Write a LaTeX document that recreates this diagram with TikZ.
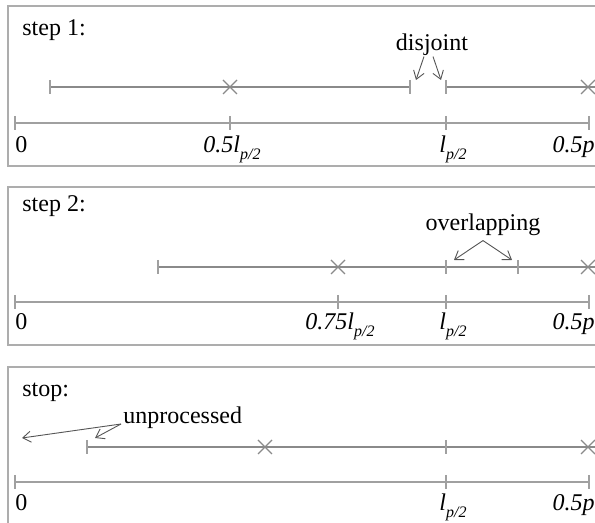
\documentclass[tikz,border=0pt]{standalone}
\usepackage{fontspec}
\setmainfont{Liberation Serif}
\usetikzlibrary{arrows.meta}
\definecolor{boxcol}{HTML}{ADADAD}
\definecolor{linecol}{HTML}{A0A0A0}
\definecolor{segcol}{HTML}{8A8A8A}
\definecolor{arrcol}{HTML}{555555}
\newcommand{\lsub}{\textit{l}\raisebox{-0.6ex}{\footnotesize\textit{p/2}}}
\begin{document}
\begin{tikzpicture}[x=0.5pt,y=-0.5pt,
  panelbox/.style={draw=boxcol,line width=0.9pt},
  axisline/.style={draw=linecol,line width=0.7pt},
  segline/.style={draw=segcol,line width=0.6pt},
  arr/.style={draw=arrcol,line width=0.45pt,-{Straight Barb[length=4pt,width=5.5pt]}},
  txt/.style={inner sep=0pt,font=\fontsize{12}{14}\selectfont},
  vtick/.pic={\draw[linecol,line width=0.6pt] (0,-7) -- (0,7);},
  xmark/.pic={\draw[segcol,line width=0.6pt] (-7,-7) -- (7,7) (-7,7) -- (7,-7);}]
\useasboundingbox (0,0) rectangle (595,523);
\clip (0,0) rectangle (595,523);
% panel boxes
\draw[panelbox] (8,6) rectangle (640,166);
\draw[panelbox] (8,187) rectangle (640,345);
\draw[panelbox] (8,367) rectangle (640,580);

% ---------- panel 1 ----------
\node[txt,anchor=base west] (t1) at (22,36) {step 1:};
\draw[segline] (50,87) -- (410,87);
\draw[segline] (446,87) -- (600,87);
\pic at (50,87) {vtick}; \pic at (410,87) {vtick}; \pic at (446,87) {vtick};
\pic at (230,87) {xmark}; \pic at (588,87) {xmark};
\draw[axisline] (15,123) -- (589,123);
\pic at (15,123) {vtick}; \pic at (230,123) {vtick}; \pic at (446,123) {vtick}; \pic at (589,123) {vtick};
\node[txt,anchor=base west] (z1) at (15,153) {0};
\node[txt,anchor=base] (h1) at (232,153) {\textit{0.5}\lsub};
\node[txt,anchor=base west] (l1) at (439,153) {\lsub};
\node[txt,anchor=base east] (p1) at (595,153) {\textit{0.5p}};
\node[txt,anchor=base] (dj) at (432,51) {disjoint};
\coordinate (dja) at (416,80);
\coordinate (djb) at (441,80);
\draw[arr] ([xshift=-4pt]dj.south) -- (dja);
\draw[arr] ([xshift=0.5pt]dj.south) -- (djb);

% ---------- panel 2 ----------
\node[txt,anchor=base west] (t2) at (22,212) {step 2:};
\draw[segline] (158,267) -- (600,267);
\pic at (158,267) {vtick}; \pic at (446,267) {vtick}; \pic at (518,267) {vtick};
\pic at (338,267) {xmark}; \pic at (588,267) {xmark};
\draw[axisline] (15,302) -- (589,302);
\pic at (15,302) {vtick}; \pic at (338,302) {vtick}; \pic at (446,302) {vtick}; \pic at (589,302) {vtick};
\node[txt,anchor=base west] (z2) at (15,330) {0};
\node[txt,anchor=base] (h2) at (340,330) {\textit{0.75}\lsub};
\node[txt,anchor=base west] (l2) at (439,330) {\lsub};
\node[txt,anchor=base east] (p2) at (595,330) {\textit{0.5p}};
\node[txt,anchor=base] (ov) at (483,231) {overlapping};
\coordinate (ova) at (454,260);
\coordinate (ovb) at (512,260);
\draw[arr] ([yshift=-2pt]ov.south) -- (ova);
\draw[arr] ([yshift=-2pt]ov.south) -- (ovb);

% ---------- panel 3 ----------
\node[txt,anchor=base west] (t3) at (22,397) {stop:};
\draw[segline] (87,447) -- (600,447);
\pic at (87,447) {vtick}; \pic at (446,447) {vtick};
\pic at (265,447) {xmark}; \pic at (588,447) {xmark};
\draw[axisline] (15,482) -- (589,482);
\pic at (15,482) {vtick}; \pic at (446,482) {vtick}; \pic at (589,482) {vtick};
\node[txt,anchor=base west] (z3) at (15,511) {0};
\node[txt,anchor=base west] (l3) at (439,511) {\lsub};
\node[txt,anchor=base east] (p3) at (595,511) {\textit{0.5p}};
\node[txt,anchor=base west] (un) at (123,424) {unprocessed};
\coordinate (unst) at (121,424);
\coordinate (una) at (22,438);
\coordinate (unb) at (95,438);
\draw[arr] (unst) -- (una);
\draw[arr] (unst) -- (unb);
\end{tikzpicture}
\end{document}
